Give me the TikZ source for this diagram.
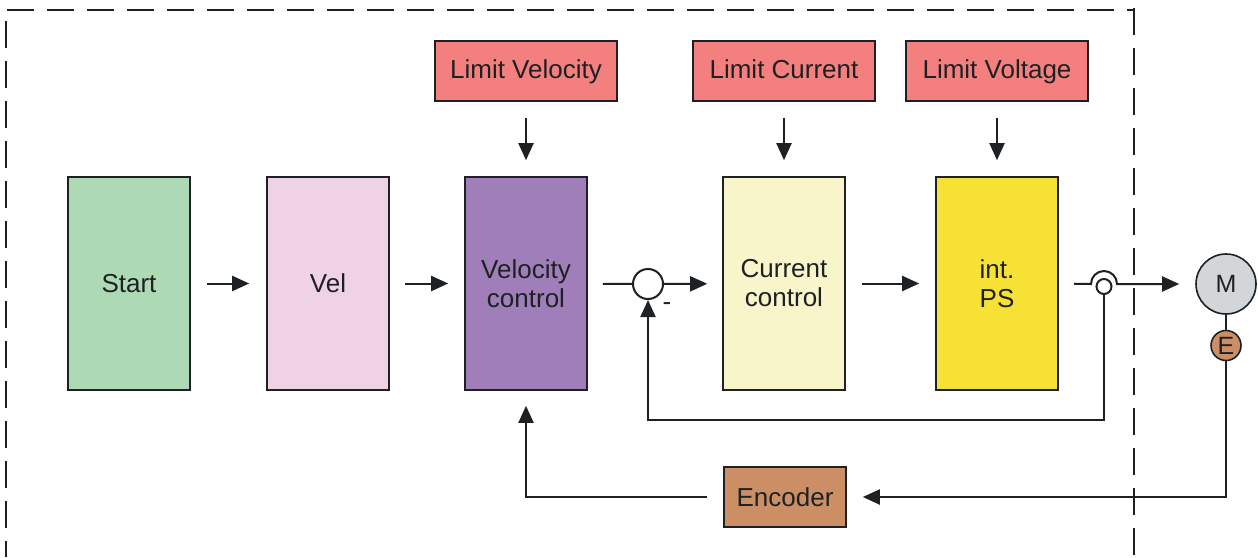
\documentclass[tikz,border=0pt]{standalone}
\usepackage{fontspec}
\setmainfont{Liberation Sans}
\usepackage{xcolor}
\usepackage{tikz}
\usetikzlibrary{arrows.meta,positioning}

\definecolor{linecol}{HTML}{1E2124}
\definecolor{startgreen}{HTML}{ADDAB4}
\definecolor{velpink}{HTML}{F0D2E6}
\definecolor{vcpurple}{HTML}{A07EBA}
\definecolor{ccyellow}{HTML}{F8F5CA}
\definecolor{psyellow}{HTML}{F7E135}
\definecolor{limitred}{HTML}{F37F7F}
\definecolor{encbrown}{HTML}{CC8F65}
\definecolor{motorgrey}{HTML}{D3D6D8}

\begin{document}
\begin{tikzpicture}[
  x=0.5pt, y=-0.5pt,
  font=\fontsize{13}{14.5}\selectfont,
  block/.style={draw=linecol, line width=0.8pt, align=center, text=linecol, minimum width=61pt, minimum height=106.5pt},
  limitbox/.style={draw=linecol, line width=0.8pt, fill=limitred, text=linecol, minimum width=91pt, minimum height=30pt, text height=9.5pt, text depth=2.5pt},
  arrow/.style={-{Triangle[length=8.5pt,width=7.5pt]}, line width=1pt, draw=linecol},
  wire/.style={line width=1pt, draw=linecol},
  frame/.style={draw=linecol, line width=1.2pt, dash pattern=on 13.5pt off 6.5pt}
]
\useasboundingbox (0,0) rectangle (1258,557);

% dashed border
\draw[frame] (7,10) -- (1134,10);
\draw[frame] (6,21) -- (6,557);
\draw[frame] (1134,8) -- (1134,557);

\node[block, fill=startgreen] (start) at (129,283.5) {Start};
\node[block, fill=velpink] (vel) at (328,283.5) {Vel};
\node[block, fill=vcpurple] (velctrl) at (526,283.5) {Velocity\\control};
\node[block, fill=ccyellow] (curctrl) at (784,283.5) {Current\\control};
\node[block, fill=psyellow] (intps) at (997,283.5) {int.\\PS};
\node[limitbox] (limvel) at (526,71) {Limit Velocity};
\node[limitbox] (limcur) at (784,71) {Limit Current};
\node[limitbox] (limvolt) at (997,71) {Limit Voltage};
\node[draw=linecol, line width=0.8pt, fill=encbrown, text=linecol, minimum width=61pt, minimum height=30pt] (encoder) at (785,497) {Encoder};

\node[circle, draw=linecol, line width=1pt, fill=white, minimum size=15pt, inner sep=0pt] (sum) at (648,284) {};
\node[text=linecol] (minus) at (667,307) {-};
\coordinate (hop) at (1104,284);
\node[circle, draw=linecol, line width=1pt, fill=white, minimum size=7.5pt, inner sep=0pt] (tap) at (1104,286.5) {};
\node[circle, draw=linecol, line width=0.8pt, fill=motorgrey, text=linecol, minimum size=30pt, inner sep=0pt, font=\fontsize{12.5}{12.5}\selectfont] (motor) at (1226,284) {M};
\node[circle, draw=linecol, line width=0.8pt, fill=encbrown, text=linecol, minimum size=15pt, inner sep=0pt, font=\fontsize{12.5}{12.5}\selectfont] (enc) at (1226,345.5) {E};

% forward path
\draw[arrow, shorten <=8pt, shorten >=8.5pt] (start) -- (vel);
\draw[arrow, shorten <=7.5pt, shorten >=8pt] (vel) -- (velctrl);
\draw[wire, shorten <=7.5pt] (velctrl) -- (sum);
\draw[arrow, shorten >=7.5pt] (sum) -- (curctrl);
\draw[arrow, shorten <=8pt, shorten >=8pt] (curctrl) -- (intps);
\draw[arrow, shorten <=7.5pt, shorten >=8pt] (intps.east) -- ([xshift=-6.5pt]hop) arc[start angle=180, end angle=0, radius=6.5pt] -- (motor);

% limits
\foreach \lim/\blk in {limvel/velctrl, limcur/curctrl, limvolt/intps}
  \draw[arrow, shorten <=8pt, shorten >=8pt] (\lim) -- (\blk);

% feedback loops
\coordinate (fbcorner) at (1104,420);
\draw[arrow] (tap.south) -- (fbcorner) -| (sum.south);
\draw[wire] (motor) -- (enc);
\draw[arrow, shorten >=8pt] (enc.south) |- (encoder.east);
\draw[arrow, shorten <=8pt, shorten >=7.5pt] (encoder.west) -| (velctrl.south);
\end{tikzpicture}
\end{document}
